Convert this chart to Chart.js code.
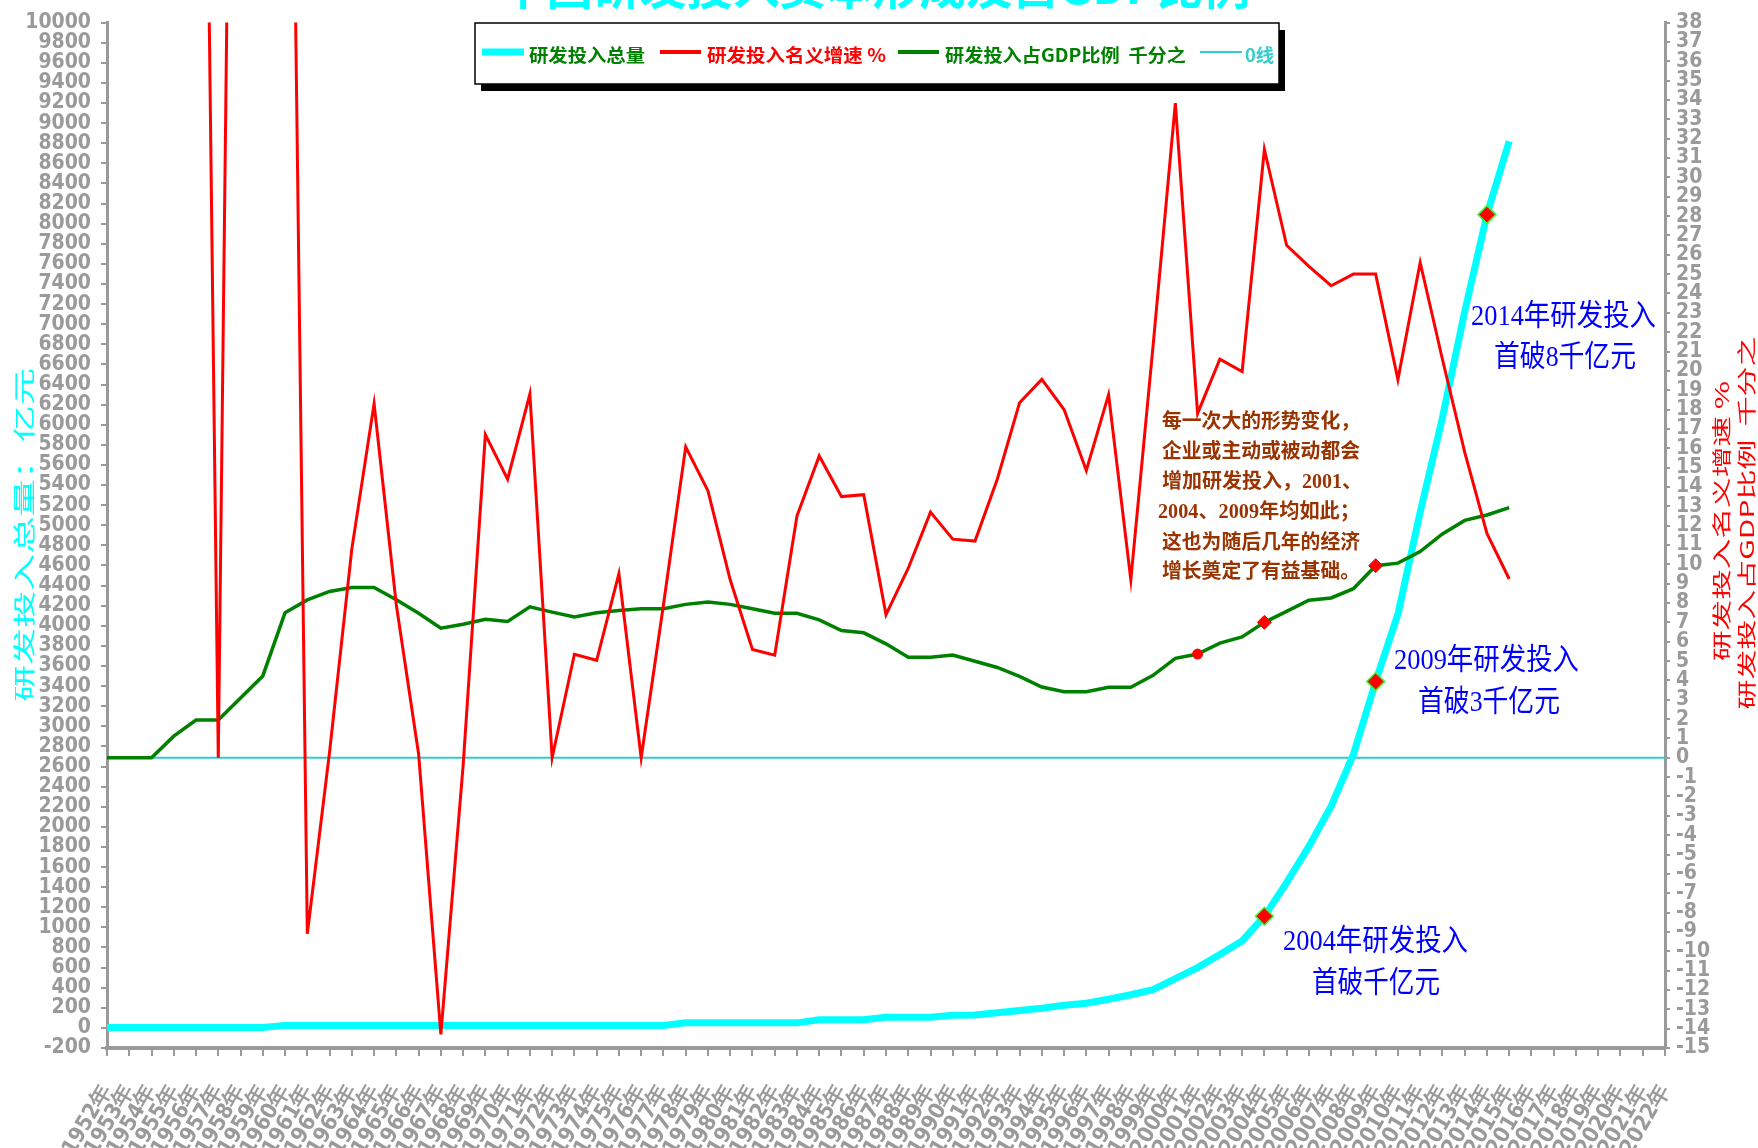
<!DOCTYPE html>
<html lang="zh">
<head>
    <meta charset="UTF-8">
    <title>中国研发投入资本形成及占GDP比例</title>
    <script src="https://cdn.jsdelivr.net/npm/chart.js"></script>
    <style>
        html, body {
            margin: 0;
            padding: 0;
            background: #fff;
        }
        canvas {
            display: block;
        }
    </style>
</head>
<body>
<canvas id="rdChart" width="1758" height="1148"></canvas>
<script>
    // 年份（横轴）
    const years = [
        '1952年', '1953年', '1954年', '1955年', '1956年', '1957年', '1958年', '1959年', '1960年', '1961年',
        '1962年', '1963年', '1964年', '1965年', '1966年', '1967年', '1968年', '1969年', '1970年', '1971年',
        '1972年', '1973年', '1974年', '1975年', '1976年', '1977年', '1978年', '1979年', '1980年', '1981年',
        '1982年', '1983年', '1984年', '1985年', '1986年', '1987年', '1988年', '1989年', '1990年', '1991年',
        '1992年', '1993年', '1994年', '1995年', '1996年', '1997年', '1998年', '1999年', '2000年', '2001年',
        '2002年', '2003年', '2004年', '2005年', '2006年', '2007年', '2008年', '2009年', '2010年', '2011年',
        '2012年', '2013年', '2014年', '2015年', '2016年', '2017年', '2018年', '2019年', '2020年', '2021年',
        '2022年'
    ];

    // 研发投入总量 亿元（左轴）
    const rdTotal = [
        5, 5, 5, 5, 5, 5, 5, 5, 25, 25,
        25, 25, 25, 25, 25, 25, 25, 25, 25, 25,
        25, 25, 25, 25, 25, 25, 50, 50, 50, 50,
        50, 50, 80, 80, 80, 105, 105, 105, 125, 128,
        150, 172, 195, 225, 245, 285, 330, 380, 490, 600,
        730, 865, 1110, 1445, 1805, 2205, 2720, 3445, 4115, 5130,
        6070, 7125, 8090, 8820, null, null, null, null, null, null,
        null
    ];

    // 研发投入名义增速 %（右轴）
    const rdGrowth = [
        null, null, null, null, 94, 0, 100, 60, 81, -9.1,
        0.3, 10.8, 18.3, 7.9, 0.2, -14.3, -0.4, 16.7, 14.4, 18.8,
        0, 5.35, 5.04, 9.52, 0, 7.9, 16.07, 13.8, 9.2, 5.6,
        5.3, 12.5, 15.6, 13.5, 13.6, 7.4, 9.8, 12.7, 11.3, 11.2,
        14.4, 18.35, 19.56, 18.0, 14.85, 18.77, 9.2, 21.3, 33.84, 17.8,
        20.6, 19.96, 31.44, 26.49, 25.4, 24.4, 25.0, 25.0, 19.55, 25.6,
        20.6, 15.8, 11.6, 9.24, null, null, null, null, null, null,
        null
    ];

    // 研发投入占GDP比例 千分之（右轴）
    const rdGdpRatio = [
        0, 0, 0, 1.12, 1.95, 1.95, 3.09, 4.23, 7.5, 8.16,
        8.6, 8.8, 8.8, 8.17, 7.47, 6.7, 6.9, 7.16, 7.05, 7.8,
        7.53, 7.28, 7.5, 7.61, 7.7, 7.7, 7.93, 8.05, 7.93, 7.7,
        7.47, 7.47, 7.13, 6.58, 6.46, 5.89, 5.2, 5.2, 5.31, 4.99,
        4.67, 4.21, 3.66, 3.42, 3.42, 3.65, 3.65, 4.26, 5.14, 5.36,
        5.93, 6.25, 7.0, 7.57, 8.14, 8.26, 8.74, 9.93, 10.06, 10.66,
        11.57, 12.27, 12.55, 12.93, null, null, null, null, null, null,
        null
    ];

    // 0线
    const zeroLine = [
        0, 0, 0, 0, 0, 0, 0, 0, 0, 0, 0, 0, 0, 0, 0, 0, 0, 0, 0, 0,
        0, 0, 0, 0, 0, 0, 0, 0, 0, 0, 0, 0, 0, 0, 0, 0, 0, 0, 0, 0,
        0, 0, 0, 0, 0, 0, 0, 0, 0, 0, 0, 0, 0, 0, 0, 0, 0, 0, 0, 0,
        0, 0, 0, 0, 0, 0, 0, 0, 0, 0, 0
    ];

    // 标记点
    const milestoneYears = ['2004年', '2009年', '2014年'];
    const ratioMarkYears = ['2001年', '2004年', '2009年'];

    const tickFont = "'Liberation Sans Narrow', 'Arial Narrow', 'DejaVu Sans Condensed', sans-serif";
    const cjkFont = "'Noto Sans CJK SC', sans-serif";
    const serifFont = "'Liberation Serif', 'Noto Sans CJK SC', serif";
    const gray = '#9a9a9a';

    // 把文字拉伸/压缩到指定宽度
    function fitText(ctx, text, x, y, width) {
        const w = ctx.measureText(text).width;
        ctx.save();
        ctx.translate(x, y);
        ctx.scale(width / w, 1);
        ctx.textAlign = 'left';
        ctx.fillText(text, 0, 0);
        ctx.restore();
    }

    // 竖排标题（自下而上）
    function verticalText(ctx, text, cx, cy, length) {
        const w = ctx.measureText(text).width;
        ctx.save();
        ctx.translate(cx, cy);
        ctx.rotate(-Math.PI / 2);
        ctx.scale(length / w, 1);
        ctx.textAlign = 'center';
        ctx.textBaseline = 'middle';
        ctx.fillText(text, 0, 0);
        ctx.restore();
    }

    const decorPlugin = {
        id: 'decor',
        beforeDraw(chart) {
            const c = chart.ctx;
            c.save();
            c.fillStyle = '#fff';
            c.fillRect(0, 0, chart.width, chart.height);
            c.restore();
        },
        afterDraw(chart) {
            const c = chart.ctx;
            c.save();

            // 标题（顶部被截掉）
            c.fillStyle = '#00ffff';
            c.font = 'bold 46px ' + cjkFont;
            c.textBaseline = 'ideographic';
            fitText(c, '中国研发投入资本形成及占GDP比例', 500, 10, 750);

            // 轴标题
            c.fillStyle = '#00ffff';
            c.font = '22px ' + cjkFont;
            verticalText(c, '研发投入总量：亿元', 24, 535, 334);
            c.fillStyle = '#ff0000';
            c.font = '19px ' + cjkFont;
            verticalText(c, '研发投入名义增速 %', 1722, 521, 280);
            verticalText(c, '研发投入占GDP比例  千分之', 1747, 523, 373);

            // 里程碑注释
            c.fillStyle = '#0000ff';
            c.font = '30px ' + serifFont;
            c.textBaseline = 'middle';
            fitText(c, '2014年研发投入', 1471, 317, 185);
            fitText(c, '首破8千亿元', 1494, 358, 142);
            fitText(c, '2009年研发投入', 1394, 661, 185);
            fitText(c, '首破3千亿元', 1418, 703, 142);
            fitText(c, '2004年研发投入', 1283, 942, 185);
            fitText(c, '首破千亿元', 1312, 984, 128);

            // 说明文字
            c.fillStyle = '#993300';
            c.font = 'bold 20px ' + serifFont;
            fitText(c, '每一次大的形势变化，', 1162, 423, 198);
            fitText(c, '企业或主动或被动都会', 1162, 453, 198);
            fitText(c, '增加研发投入，2001、', 1162, 483, 200);
            fitText(c, '2004、2009年均如此；', 1158, 513, 202);
            fitText(c, '这也为随后几年的经济', 1162, 544, 198);
            fitText(c, '增长奠定了有益基础。', 1162, 573, 198);

            // 图例框
            const bx = 475, by = 23, bw = 804, bh = 61;
            c.fillStyle = '#000';
            c.fillRect(bx + 6, by + 7, bw, bh);
            c.fillStyle = '#fff';
            c.fillRect(bx, by, bw, bh);
            c.strokeStyle = '#000';
            c.lineWidth = 1.5;
            c.strokeRect(bx, by, bw, bh);

            const items = [
                {x1: 482, x2: 524, lw: 7, line: '#00ffff', text: '研发投入总量', tx: 529, tw: 116, color: '#008000'},
                {x1: 660, x2: 701, lw: 4, line: '#ff0000', text: '研发投入名义增速 %', tx: 707, tw: 179, color: '#ff0000'},
                {x1: 898, x2: 939, lw: 4, line: '#008000', text: '研发投入占GDP比例  千分之', tx: 945, tw: 241, color: '#008000'},
                {x1: 1200, x2: 1242, lw: 2, line: '#33cccc', text: '0线', tx: 1245, tw: 29, color: '#33cccc'}
            ];
            c.font = 'bold 18px ' + cjkFont;
            c.textBaseline = 'middle';
            items.forEach(it => {
                c.strokeStyle = it.line;
                c.lineWidth = it.lw;
                c.beginPath();
                c.moveTo(it.x1, 52);
                c.lineTo(it.x2, 52);
                c.stroke();
                c.fillStyle = it.color;
                fitText(c, it.text, it.tx, 55, it.tw);
            });

            c.restore();
        }
    };

    const ctx = document.getElementById('rdChart').getContext('2d');
    new Chart(ctx, {
        type: 'line',
        data: {
            labels: years,
            datasets: [
                {
                    label: '研发投入名义增速 %',
                    data: rdGrowth,
                    yAxisID: 'y1',
                    borderColor: '#ff0000',
                    borderWidth: 3,
                    pointRadius: 0,
                    order: 1
                },
                {
                    label: '研发投入占GDP比例 千分之',
                    data: rdGdpRatio,
                    yAxisID: 'y1',
                    borderColor: '#008000',
                    borderWidth: 3.5,
                    pointRadius: years.map(y => y === '2001年' ? 5 : (ratioMarkYears.includes(y) ? 7 : 0)),
                    pointStyle: years.map(y => y === '2001年' ? 'circle' : 'rectRot'),
                    pointBackgroundColor: '#ff0000',
                    pointBorderColor: '#ff0000',
                    pointBorderWidth: 1,
                    order: 2
                },
                {
                    label: '研发投入总量',
                    data: rdTotal,
                    yAxisID: 'y',
                    borderColor: '#00ffff',
                    borderWidth: 7,
                    pointRadius: years.map(y => milestoneYears.includes(y) ? 9 : 0),
                    pointStyle: 'rectRot',
                    pointBackgroundColor: '#ff0000',
                    pointBorderColor: '#33ff33',
                    pointBorderWidth: 1.5,
                    order: 3
                },
                {
                    label: '0线',
                    data: zeroLine,
                    yAxisID: 'y1',
                    borderColor: '#33cccc',
                    borderWidth: 2,
                    pointRadius: 0,
                    order: 4
                }
            ]
        },
        options: {
            responsive: false,
            animation: false,
            layout: {padding: {top: 19}},
            elements: {line: {tension: 0}},
            plugins: {
                legend: {display: false},
                tooltip: {enabled: false}
            },
            scales: {
                x: {
                    offset: false,
                    afterFit: s => { s.height = 100; },
                    grid: {drawOnChartArea: false, color: gray, lineWidth: 2, tickLength: 8},
                    border: {display: true, color: gray, width: 4},
                    ticks: {
                        autoSkip: false,
                        minRotation: 60,
                        maxRotation: 60,
                        padding: 24,
                        color: gray,
                        font: {family: tickFont, size: 22, weight: 'bold'}
                    }
                },
                y: {
                    position: 'left',
                    min: -200,
                    max: 10000,
                    afterFit: s => { s.width = 107; },
                    grid: {drawOnChartArea: false, color: gray, lineWidth: 2, tickLength: 6},
                    border: {display: true, color: gray, width: 3},
                    ticks: {
                        stepSize: 200,
                        autoSkip: false,
                        padding: 10,
                        color: gray,
                        font: {family: tickFont, size: 21, weight: 'bold'},
                        callback: v => String(v)
                    }
                },
                y1: {
                    position: 'right',
                    min: -15,
                    max: 38,
                    afterFit: s => { s.width = 93; },
                    grid: {drawOnChartArea: false, color: gray, lineWidth: 2, tickLength: 5},
                    border: {display: true, color: gray, width: 3},
                    ticks: {
                        stepSize: 1,
                        autoSkip: false,
                        padding: 6,
                        color: gray,
                        font: {family: tickFont, size: 21, weight: 'bold'},
                        callback: v => String(v)
                    }
                }
            }
        },
        plugins: [decorPlugin]
    });
</script>
</body>
</html>
